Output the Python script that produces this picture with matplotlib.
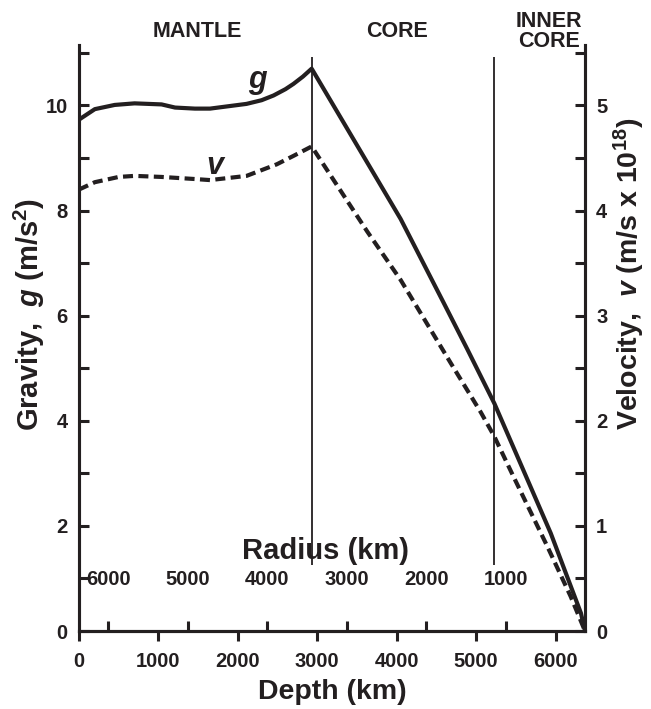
import matplotlib.pyplot as plt

plt.rcParams['font.family'] = 'Liberation Sans'
plt.rcParams['font.weight'] = 'bold'
plt.rcParams['axes.labelweight'] = 'bold'
plt.rcParams['mathtext.fontset'] = 'custom'
plt.rcParams['mathtext.rm'] = 'Liberation Sans:bold'
plt.rcParams['mathtext.it'] = 'Liberation Sans:bold:italic'
plt.rcParams['mathtext.bf'] = 'Liberation Sans:bold'

INK = '#231f20'
R_EARTH = 6371

# gravity (m/s^2) vs depth (km)
g_depth = [0, 200, 450, 700, 1040, 1210, 1460, 1650, 2110, 2300, 2450, 2600, 2700, 2820, 2930,
           4050, 4590, 4890, 5230, 5940, 6320, 6371]
g_vals = [9.73, 9.93, 10.01, 10.04, 10.02, 9.96, 9.94, 9.94, 10.03, 10.10, 10.19, 10.31, 10.41, 10.55, 10.70,
          7.84, 6.25, 5.36, 4.33, 1.86, 0.34, 0.0]

# velocity (m/s x 10^18) vs depth (km)
v_depth = [0, 200, 500, 700, 1040, 1460, 1650, 2110, 2490, 2700, 2930,
           3630, 4050, 4680, 5060, 5230, 5470, 5900, 6190, 6371]
v_vals = [4.20, 4.27, 4.32, 4.33, 4.32, 4.30, 4.29, 4.33, 4.44, 4.52, 4.61,
          3.80, 3.34, 2.55, 2.08, 1.85, 1.47, 0.80, 0.33, 0.0]

boundaries = [2930, 5220]  # core-mantle, inner-core
regions = [('MANTLE', 1490), ('CORE', 4010), ('INNER\nCORE', 5914)]
depth_ticks = [0, 1000, 2000, 3000, 4000, 5000, 6000]
radius_ticks = [6000, 5000, 4000, 3000, 2000, 1000]

fig = plt.figure(figsize=(6.51, 7.09), dpi=100)
ax = fig.add_axes([0.1213, 0.110, 0.7773, 0.8265])
ax2 = ax.twinx()

ax.plot(g_depth, g_vals, color=INK, lw=3.0)
ax2.plot(v_depth, v_vals, color=INK, lw=3.0, dashes=(2.4, 1.3))

for b in boundaries:
    ax.vlines(b, 1.25, 10.92, color=INK, lw=1.3)

ax.set_xlim(0, R_EARTH)
ax.set_ylim(0, 11.15)
ax2.set_ylim(0, 11.15 / 2)

ax.set_xticks(depth_ticks)
ax.set_yticks(range(0, 12))
ax.set_yticklabels([str(t) if t % 2 == 0 else '' for t in range(0, 12)])
ax2.set_yticks([i * 0.5 for i in range(0, 12)])
ax2.set_yticklabels([str(i // 2) if i % 2 == 0 else '' for i in range(0, 12)])

for a in (ax, ax2):
    a.spines['top'].set_visible(False)
    for s in a.spines.values():
        s.set_linewidth(2.2)
        s.set_color(INK)

tick_kw = dict(length=7, width=2.2, color=INK, labelsize=14.5, labelcolor=INK, pad=8)
ax.tick_params(axis='x', direction='out', **tick_kw)
ax.tick_params(axis='y', direction='in', **tick_kw)
ax2.tick_params(axis='y', direction='in', **tick_kw)

# radius scale sits inside the plot, above the depth axis
sec = ax.secondary_xaxis('bottom', functions=(lambda d: R_EARTH - d, lambda r: R_EARTH - r))
sec.set_xticks(radius_ticks)
sec.spines['bottom'].set_linewidth(2.2)
sec.spines['bottom'].set_color(INK)
sec.tick_params(direction='in', length=7, width=2.2, color=INK,
                labelsize=14.5, labelcolor=INK, pad=-44)
ax.text(3100, 1.52, 'Radius (km)', ha='center', va='center', fontsize=21, color=INK)

ax.set_xlabel('Depth (km)', fontsize=20.5, color=INK, labelpad=6)
ax.set_ylabel(r'Gravity,  $\mathit{g}$ (m/s$^{2}$)', fontsize=21, color=INK)
ax.yaxis.set_label_coords(-0.064, 0.54)
ax2.set_ylabel(r'Velocity,  $\mathit{v}$ (m/s x 10$^{18}$)', fontsize=20.5, color=INK)
ax2.yaxis.set_label_coords(1.052, 0.61)

ax.text(2260, 10.45, r'$\mathit{g}$', fontsize=22, color=INK, ha='center', va='center')
ax.text(1725, 8.85, r'$\mathit{v}$', fontsize=22, color=INK, ha='center', va='center')

for name, x in regions:
    ax.text(x, 11.4, name, ha='center', va='center', fontsize=15.5, color=INK,
            linespacing=0.95, clip_on=False)

fig.savefig('out.png', dpi=100)
